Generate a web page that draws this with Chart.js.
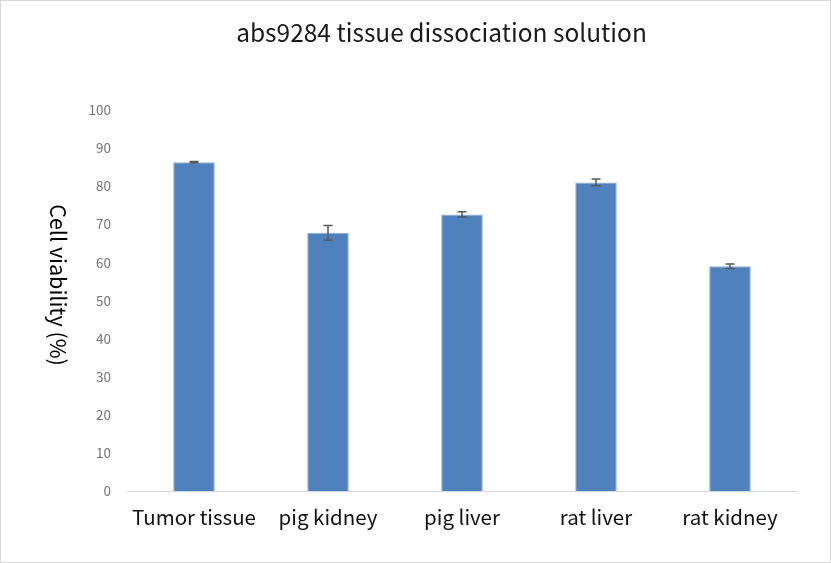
<!DOCTYPE html>
<html>
<head>
<meta charset="utf-8">
<script src="https://cdn.jsdelivr.net/npm/chart.js@4"></script>
<style>
  body { margin: 0; background: #fff; }
  #wrap { width: 831px; height: 563px; position: relative; }
</style>
</head>
<body>
<div id="wrap"><canvas id="chart"></canvas></div>
<script>
const tissues = ['Tumor tissue', 'pig kidney', 'pig liver', 'rat liver', 'rat kidney'];
const viability = [86.3, 67.8, 72.6, 81.0, 59.0];
const viabilityErr = [0.2, 1.9, 0.7, 0.9, 0.6];

const FONT = '"Noto Sans CJK SC", "Noto Sans", sans-serif';

// error bars, drawn off the y scale
const errorBars = {
    id: 'errorBars',
    afterDatasetsDraw(chart) {
        const ctx = chart.ctx;
        const meta = chart.getDatasetMeta(0);
        const y = chart.scales.y;
        ctx.save();
        ctx.strokeStyle = '#595959';
        ctx.lineWidth = 1.5;
        meta.data.forEach((bar, i) => {
            const top = y.getPixelForValue(viability[i] + viabilityErr[i]);
            const bottom = y.getPixelForValue(viability[i] - viabilityErr[i]);
            const x = bar.x;
            ctx.beginPath();
            ctx.moveTo(x, top); ctx.lineTo(x, bottom);
            ctx.moveTo(x - 4.5, top); ctx.lineTo(x + 4.5, top);
            ctx.moveTo(x - 4.5, bottom); ctx.lineTo(x + 4.5, bottom);
            ctx.stroke();
        });
        ctx.restore();
    }
};

// y title reads top to bottom in the original, so draw it by hand
const yTitle = {
    id: 'yTitle',
    afterDraw(chart) {
        const ctx = chart.ctx;
        ctx.save();
        ctx.translate(58, 285);
        ctx.rotate(Math.PI / 2);
        ctx.font = '21.5px ' + FONT;
        ctx.fillStyle = '#000';
        ctx.textAlign = 'center';
        ctx.textBaseline = 'middle';
        ctx.fillText('Cell viability (%)', 0, 0);
        ctx.restore();
        // outer frame
        ctx.save();
        ctx.strokeStyle = '#d9d9d9';
        ctx.lineWidth = 1;
        ctx.strokeRect(0.5, 0.5, chart.width - 1, chart.height - 1);
        ctx.restore();
    }
};

new Chart(document.getElementById('chart'), {
    type: 'bar',
    data: {
        labels: tissues,
        datasets: [{
            data: viability,
            backgroundColor: '#4f81bd',
            borderColor: '#8eaad6',
            borderWidth: 1,
            categoryPercentage: 1,
            barPercentage: 0.31
        }]
    },
    options: {
        responsive: true,
        maintainAspectRatio: false,
        animation: false,
        // left padding pushes the title centre to the right like the original
        // (tick labels get clipped to the y scale box, so it can't be wider)
        layout: { padding: { left: 86, right: 34, top: 0, bottom: 0 } },
        plugins: {
            legend: { display: false },
            tooltip: { enabled: false },
            title: {
                display: true,
                text: 'abs9284 tissue dissociation solution',
                color: '#1a1a1a',
                font: { family: FONT, size: 24.5, weight: 'normal', lineHeight: 1.2 },
                padding: { top: 18, bottom: 62.6 }
            }
        },
        scales: {
            x: {
                grid: { display: false, drawTicks: false },
                border: { display: true, color: '#d9d9d9', width: 1 },
                ticks: { color: '#111', padding: 14, font: { family: FONT, size: 20.5 } },
                afterFit(scale) { scale.height = 72; }
            },
            y: {
                min: 0,
                max: 100,
                grid: { display: false, drawTicks: false },
                border: { display: false },
                ticks: { stepSize: 10, color: '#767676', padding: 16, font: { family: FONT, size: 13.5 } },
                afterFit(scale) { scale.width = 41; }
            }
        }
    },
    plugins: [errorBars, yTitle]
});
</script>
</body>
</html>
